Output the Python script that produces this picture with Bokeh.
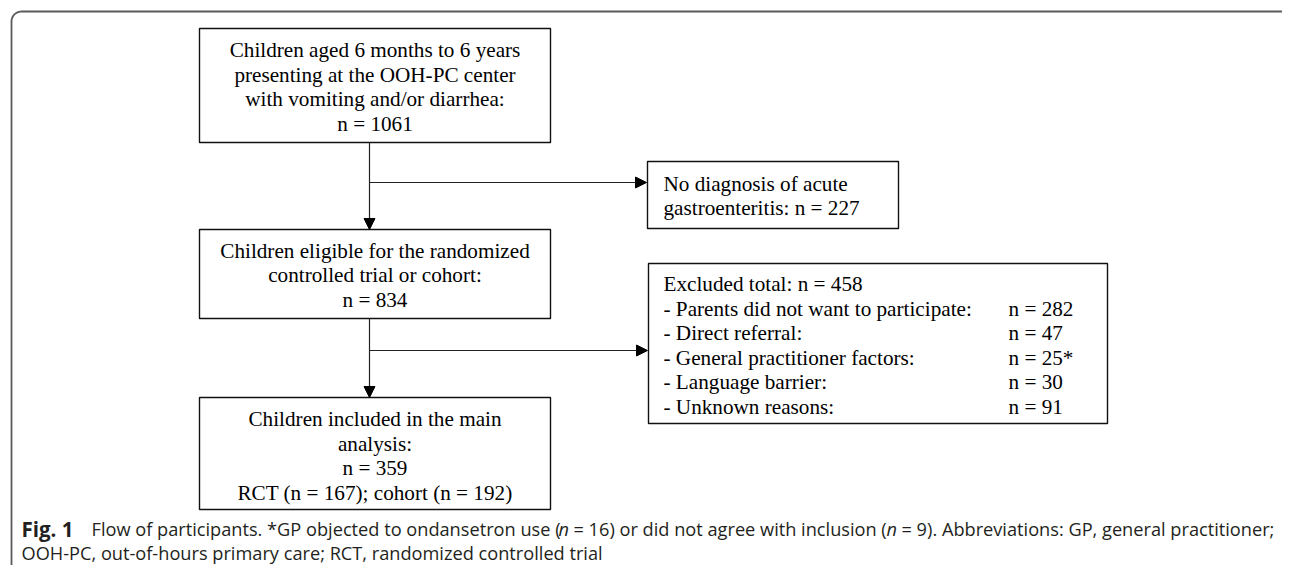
from bokeh.plotting import figure
from bokeh.models import Range1d, Arrow, NormalHead
from bokeh.core.properties import value
from bokeh.embed import file_html
from bokeh.resources import INLINE
import numpy as np

# ---------------- data ----------------
n_presenting = 1061
n_no_diagnosis = 227
n_eligible = 834
n_excluded = 458
excluded_reasons = ["Parents did not want to participate:", "Direct referral:",
                    "General practitioner factors:", "Language barrier:", "Unknown reasons:"]
excluded_counts = [282, 47, 25, 30, 91]
excluded_marks = ["", "", "*", "", ""]
n_included = 359
n_rct = 167
n_cohort = 192
n_gp_objected = 16
n_gp_disagree = 9

box1_lines = ["Children aged 6 months to 6 years", "presenting at the OOH-PC center",
              "with vomiting and/or diarrhea:", f"n = {n_presenting}"]
box2_lines = ["Children eligible for the randomized", "controlled trial or cohort:",
              f"n = {n_eligible}"]
box3_lines = ["Children included in the main", "analysis:", f"n = {n_included}",
              f"RCT (n = {n_rct}); cohort (n = {n_cohort})"]
nodiag_lines = ["No diagnosis of acute", f"gastroenteritis: n = {n_no_diagnosis}"]
excl_title = f"Excluded total: n = {n_excluded}"

# ---------------- layout (screen-like coordinates) ----------------
W, H = 1282, 565
p = figure(width=W, height=H, output_backend="svg", toolbar_location=None,
           x_range=Range1d(0, W), y_range=Range1d(H, 0),
           min_border=0, outline_line_color=None)
p.axis.visible = False
p.grid.visible = False
p.background_fill_color = "white"
p.border_fill_color = "white"

serif = value("Liberation Serif")
sans = value("Open Sans")

# outer frame: left and top edge with a rounded corner
fx, fy, r = 11, 11, 10
theta = np.linspace(np.pi, 1.5 * np.pi, 20)
arc_x = list(fx + r + r * np.cos(theta))
arc_y = list(fy + r + r * np.sin(theta))
frame_x = [fx] + arc_x + [W]
frame_y = [H] + arc_y + [fy]
p.line(frame_x, frame_y, line_color="#5a5a5a", line_width=1.8)

# boxes: (left, right, top, bottom)
main_l, main_r = 199, 550
b1 = (main_l, main_r, 28, 142)
b2 = (main_l, main_r, 229, 318)
b3 = (main_l, main_r, 397, 509)
bnd = (647, 898, 161, 228)
bex = (648, 1107, 263, 423)
boxes = [b1, b2, b3, bnd, bex]
p.quad(left=[b[0] for b in boxes], right=[b[1] for b in boxes],
       top=[b[2] for b in boxes], bottom=[b[3] for b in boxes],
       fill_color="white", line_color="#111111", line_width=1.4)

# connectors
cx = 369
p.segment(x0=[cx, cx], y0=[b1[3], b2[3]], x1=[cx, cx], y1=[b2[2] - 10, b3[2] - 10],
          line_color="#222222", line_width=1.2)
branch_y = [182, 350]
for (y0, y1) in [(b1[3], b2[2]), (b2[3], b3[2])]:
    p.add_layout(Arrow(end=NormalHead(size=11, fill_color="black", line_color="black", line_width=1),
                       x_start=cx, y_start=y1 - 12, x_end=cx, y_end=y1,
                       line_color="#222222", line_width=1.2))
for by, box in zip(branch_y, [bnd, bex]):
    p.add_layout(Arrow(end=NormalHead(size=11, fill_color="black", line_color="black", line_width=1),
                       x_start=cx, y_start=by, x_end=box[0] - 1, y_end=by,
                       line_color="#222222", line_width=1.2))

fs = "21.2px"
line_h = 24.5


def centered(lines, box, y_first):
    xc = (box[0] + box[1]) / 2
    ys = [y_first + i * line_h for i in range(len(lines))]
    p.text(x=[xc] * len(lines), y=ys, text=lines, text_font=serif, text_font_size=fs,
           text_align="center", text_baseline="middle", text_color="black")


centered(box1_lines, b1, 49.5)
centered(box2_lines, b2, 250)
centered(box3_lines, b3, 418.5)

tx = 663
p.text(x=[tx, tx], y=[183, 207.5], text=nodiag_lines, text_font=serif, text_font_size=fs,
       text_align="left", text_baseline="middle", text_color="black")

ex_lines = [excl_title] + ["- " + s for s in excluded_reasons]
ex_ys = [283.5 + i * line_h for i in range(len(ex_lines))]
p.text(x=[tx] * len(ex_lines), y=ex_ys, text=ex_lines, text_font=serif, text_font_size=fs,
       text_align="left", text_baseline="middle", text_color="black")
count_txt = [f"n = {c}{m}" for c, m in zip(excluded_counts, excluded_marks)]
p.text(x=[1008] * len(count_txt), y=ex_ys[1:], text=count_txt, text_font=serif,
       text_font_size=fs, text_align="left", text_baseline="middle", text_color="black")

# caption
cap_fs = "18.2px"
cap_col = "#231f20"
cy1, cy2 = 528, 552
p.text(x=[21], y=[cy1], text=["Fig. 1"], text_font=sans, text_font_size="20.5px",
       text_font_style="bold", text_align="left", text_baseline="middle", text_color=cap_col)
cap_pieces = ["Flow of participants. *GP objected to ondansetron use (",
              f"= {n_gp_objected}) or did not agree with inclusion (",
              f"= {n_gp_disagree}). Abbreviations: GP, general practitioner;"]
cap_x = [91, 573, 901]
p.text(x=cap_x, y=[cy1] * 3, text=cap_pieces, text_font=sans, text_font_size=cap_fs,
       text_align="left", text_baseline="middle", text_color=cap_col)
p.text(x=[558, 886], y=[cy1, cy1], text=["n", "n"], text_font=sans, text_font_size=cap_fs,
       text_font_style="italic", text_align="left", text_baseline="middle", text_color=cap_col)
p.text(x=[21], y=[cy2], text=["OOH-PC, out-of-hours primary care; RCT, randomized controlled trial"],
       text_font=sans, text_font_size=cap_fs, text_align="left", text_baseline="middle",
       text_color=cap_col)

open("out.html", "w").write(file_html(p, INLINE))
